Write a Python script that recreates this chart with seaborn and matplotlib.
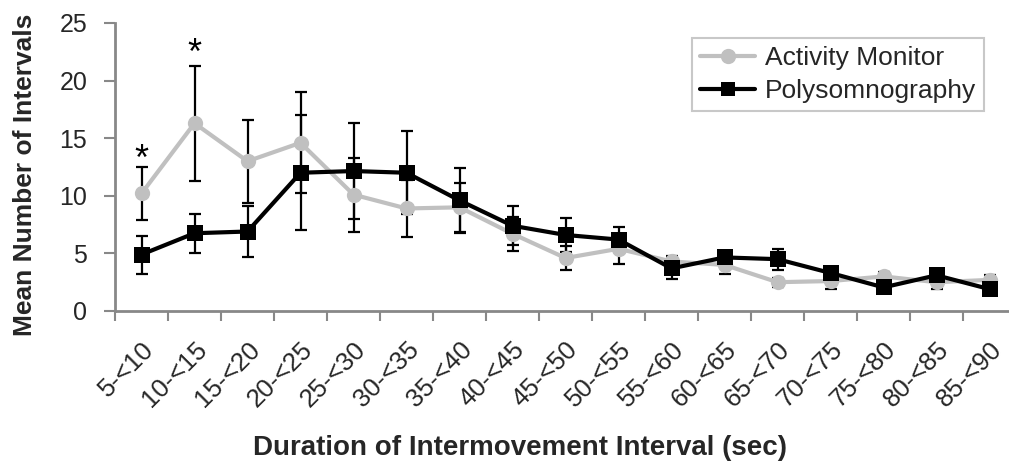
import numpy as np
import pandas as pd
import matplotlib
matplotlib.use("Agg")
import matplotlib.pyplot as plt
import seaborn as sns
from matplotlib.lines import Line2D

categories = ["5-<10", "10-<15", "15-<20", "20-<25", "25-<30", "30-<35", "35-<40",
              "40-<45", "45-<50", "50-<55", "55-<60", "60-<65", "65-<70", "70-<75",
              "75-<80", "80-<85", "85-<90"]
activity = [10.2, 16.3, 13.0, 14.6, 10.1, 8.9, 9.0, 6.7, 4.6, 5.4, 4.3, 4.0, 2.5, 2.6, 3.0, 2.5, 2.7]
activity_err = [2.3, 5.0, 3.6, 4.4, 3.2, 2.5, 2.1, 1.5, 1.0, 1.3, 0.5, 0.8, 0.4, 0.7, 0.4, 0.6, 0.4]
psg = [4.9, 6.75, 6.9, 12.0, 12.15, 12.0, 9.6, 7.4, 6.6, 6.2, 3.7, 4.65, 4.5, 3.3, 2.05, 3.1, 1.9]
psg_err = [1.65, 1.7, 2.2, 5.0, 4.15, 3.6, 2.8, 1.7, 1.5, 1.1, 0.9, 0.5, 0.9, 0.5, 0.4, 0.4, 0.4]
star_idx = [0, 1]
star_y = [14.0, 23.2]

sns.set_theme(style="white")
plt.rcParams['font.family'] = ['Liberation Sans', 'DejaVu Sans']

fig = plt.figure(figsize=(10.09, 4.75), dpi=100)
ax = fig.add_axes([115/1009, 1-311/475, 901/1009, 288/475])

x = np.arange(len(categories))
df = pd.DataFrame({"x": np.concatenate([x, x]),
                   "y": activity + psg,
                   "series": ["Activity Monitor"]*len(x) + ["Polysomnography"]*len(x)})

ax.errorbar(x, activity, yerr=activity_err, fmt='none', ecolor='black', elinewidth=1.6,
            capsize=4.3, capthick=1.6, zorder=1)
ax.errorbar(x, psg, yerr=psg_err, fmt='none', ecolor='black', elinewidth=1.6,
            capsize=4.3, capthick=1.6, zorder=1)

sns.lineplot(data=df, x="x", y="y", hue="series", style="series",
             palette={"Activity Monitor": "#c0c0c0", "Polysomnography": "#000000"},
             markers={"Activity Monitor": "o", "Polysomnography": "s"},
             dashes=False, linewidth=3, markersize=11, markeredgewidth=0,
             ax=ax, legend=False, zorder=3)

for i, yv in zip(star_idx, star_y):
    ax.annotate("*", xy=(x[i], yv), xytext=(0, -0.56*26), textcoords="offset points",
                ha="center", va="baseline", fontsize=26, color="black")

ax.set_xlim(-0.5, len(categories) - 0.5)
ax.set_ylim(0, 25)
ax.set_yticks([0, 5, 10, 15, 20, 25])
ax.set_xticks(np.arange(len(categories) + 1) - 0.5, minor=False)
ax.set_xticklabels([])
ax.set_xticks(x, minor=True)
ax.set_xticklabels(categories, minor=True, rotation=45, ha="right", rotation_mode="anchor",
                   fontsize=18.5)
ax.tick_params(axis="x", which="major", length=7, width=1.5, color="#888888", bottom=True)
ax.tick_params(axis="x", which="minor", length=0, pad=19)
ax.tick_params(axis="y", length=8, width=1.5, color="#888888", left=True, labelsize=18, pad=12)

for s in ["top", "right"]:
    ax.spines[s].set_visible(False)
for s in ["left", "bottom"]:
    ax.spines[s].set_color("#888888")
    ax.spines[s].set_linewidth(2)

ax.set_xlabel("")
ax.set_ylabel("")
fig.text(25/1009, 1-175/475, "Mean Number of Intervals", rotation=90, ha="center", va="center",
         fontsize=19, fontweight="bold")
fig.text(520/1009, 1-448/475, "Duration of Intermovement Interval (sec)", ha="center", va="center",
         fontsize=20, fontweight="bold")

handles = [Line2D([], [], color="#c0c0c0", marker="o", linewidth=3, markersize=11, markeredgewidth=0),
           Line2D([], [], color="black", marker="s", linewidth=3, markersize=10, markeredgewidth=0)]
leg = fig.legend(handles, ["Activity Monitor", "Polysomnography"], loc="upper left",
                 bbox_to_anchor=(692/1009, 1-38/475), fontsize=19, frameon=True, fancybox=False,
                 edgecolor="#bbbbbb", handlelength=2.1, borderpad=0.3, labelspacing=0.35,
                 handletextpad=0.35, borderaxespad=0)
leg.get_frame().set_linewidth(1.5)

fig.savefig("out.png", dpi=100)
